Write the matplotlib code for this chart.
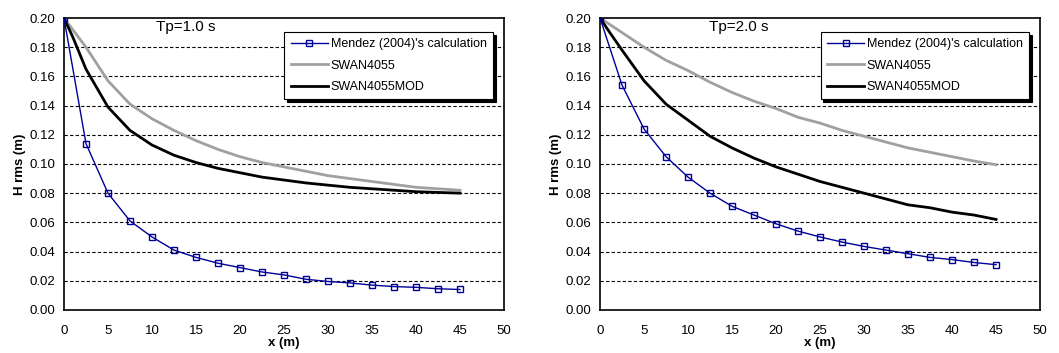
#!/usr/bin/env python3
"""Hrms decay along x: Mendez (2004) vs SWAN4055 / SWAN4055MOD, Tp=1 s and Tp=2 s."""
import matplotlib
matplotlib.use("Agg")
import matplotlib.pyplot as plt

plt.rcParams["font.family"] = ["Liberation Sans", "DejaVu Sans"]

# Mendez (2004) points, every 2.5 m
x_mendez = [0, 2.5, 5, 7.5, 10, 12.5, 15, 17.5, 20, 22.5, 25, 27.5, 30,
            32.5, 35, 37.5, 40, 42.5, 45]
mendez_tp1 = [0.200, 0.114, 0.080, 0.061, 0.050, 0.041, 0.036, 0.032, 0.029,
              0.026, 0.024, 0.021, 0.0195, 0.0185, 0.017, 0.016, 0.0155,
              0.0145, 0.014]
mendez_tp2 = [0.200, 0.154, 0.124, 0.105, 0.091, 0.080, 0.071, 0.065, 0.059,
              0.054, 0.050, 0.0465, 0.0435, 0.041, 0.0385, 0.036, 0.0345,
              0.0325, 0.031]

# SWAN runs
x_swan = [0, 1, 2.5, 5, 7.5, 10, 12.5, 15, 17.5, 20, 22.5, 25, 27.5, 30,
          32.5, 35, 37.5, 40, 42.5, 45]
swan_tp1 = [0.200, 0.192, 0.180, 0.157, 0.141, 0.131, 0.123, 0.116, 0.110,
            0.105, 0.101, 0.098, 0.095, 0.092, 0.090, 0.088, 0.086, 0.084,
            0.083, 0.082]
swanmod_tp1 = [0.200, 0.187, 0.165, 0.139, 0.123, 0.113, 0.106, 0.101, 0.097,
               0.094, 0.091, 0.089, 0.087, 0.0855, 0.084, 0.083, 0.082, 0.081,
               0.0805, 0.080]
swan_tp2 = [0.200, 0.196, 0.190, 0.180, 0.171, 0.164, 0.156, 0.149, 0.143,
            0.138, 0.132, 0.128, 0.123, 0.119, 0.115, 0.111, 0.108, 0.105,
            0.102, 0.0995]
swanmod_tp2 = [0.200, 0.191, 0.178, 0.157, 0.141, 0.130, 0.119, 0.111, 0.104,
               0.098, 0.093, 0.088, 0.084, 0.080, 0.076, 0.072, 0.070, 0.067,
               0.065, 0.062]

panels = [
    ("Tp=1.0 s", 10.5, mendez_tp1, swan_tp1, swanmod_tp1),
    ("Tp=2.0 s", 12.4, mendez_tp2, swan_tp2, swanmod_tp2),
]

x_ticks = list(range(0, 51, 5))
y_ticks = [0.0, 0.02, 0.04, 0.06, 0.08, 0.10, 0.12, 0.14, 0.16, 0.18, 0.20]

fig = plt.figure(figsize=(10.59, 3.53), dpi=100)
lefts = [0.0604, 0.5666]

for left, (title, tx, mendez, swan, swanmod) in zip(lefts, panels):
    ax = fig.add_axes([left, 0.122, 0.4155, 0.827])
    for yv in y_ticks[1:-1]:
        ax.axhline(yv, color="black", linestyle=(0, (3, 2)), linewidth=0.8, zorder=0)

    ax.plot(x_mendez, mendez, color="#000099", linewidth=1.0, marker="s",
            markersize=5, markerfacecolor="none", markeredgecolor="#000099",
            markeredgewidth=1.0, label="Mendez (2004)'s calculation", zorder=4)
    ax.plot(x_swan, swan, color="#a0a0a0", linewidth=2.0, label="SWAN4055", zorder=2)
    ax.plot(x_swan, swanmod, color="black", linewidth=2.0, label="SWAN4055MOD", zorder=3)

    ax.set_xlim(0, 50)
    ax.set_ylim(0, 0.20)
    ax.set_xticks(x_ticks)
    ax.set_yticks(y_ticks)
    ax.set_yticklabels([f"{v:.2f}" for v in y_ticks])
    ax.tick_params(axis="y", length=0, labelsize=9.5, pad=6)
    ax.tick_params(axis="x", length=0, labelsize=9.5, pad=11)
    for s in ax.spines.values():
        s.set_color("black")
        s.set_linewidth(1.2)

    ax.set_xlabel("x (m)", fontsize=9.5, fontweight="bold", labelpad=0)
    ax.set_ylabel("H rms (m)", fontsize=9.5, fontweight="bold", labelpad=3)
    ax.text(tx, 0.194, title, fontsize=11, va="center", ha="left")

    leg = ax.legend(loc="upper right", bbox_to_anchor=(0.975, 0.952),
                    fontsize=9, frameon=True, fancybox=False,
                    shadow={"color": "black", "alpha": 1.0, "ox": 2, "oy": -2},
                    handlelength=3.0, borderpad=0.5, labelspacing=0.75,
                    handletextpad=0.2, borderaxespad=0)
    leg.get_frame().set_edgecolor("black")
    leg.get_frame().set_linewidth(0.8)
    leg.get_frame().set_facecolor("white")
    leg.get_frame().set_alpha(1.0)

fig.savefig("out.png", dpi=100)
